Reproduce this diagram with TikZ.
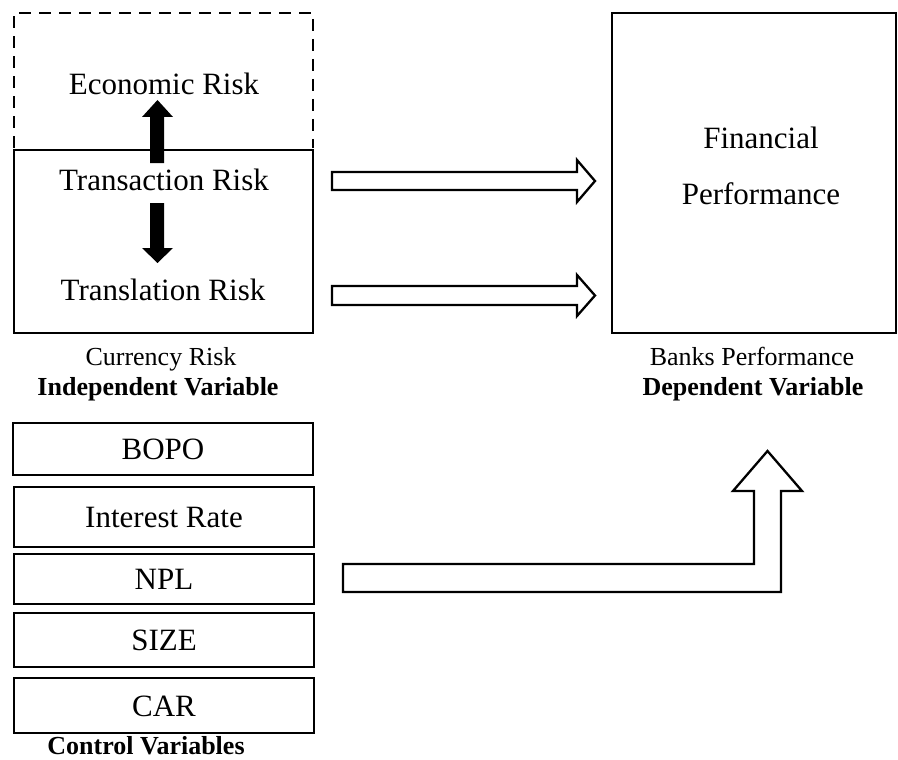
\documentclass[tikz,border=0pt]{standalone}
\usepackage{fontspec}
\setmainfont{Liberation Serif}
\newcommand{\bigtxt}{\fontsize{31}{37}\selectfont}
\newcommand{\smalltxt}{\fontsize{26}{31}\selectfont}
\begin{document}
\begin{tikzpicture}[x=1pt,y=-1pt,line join=miter,
	box/.style={draw,line width=2.6pt,inner sep=0pt},
	ctrlbox/.style={box,minimum width=300pt,text height=21pt,text depth=0pt,font=\bigtxt},
	txt/.style={anchor=base,inner sep=0pt,font=\bigtxt},
	note/.style={anchor=base,inner sep=0pt,font=\smalltxt},
	hollow/.style={draw,line width=2.3pt,fill=white},
	solid arrow/.style={fill=black}]
	\useasboundingbox (0,0) rectangle (898,760);
	% independent variable
	\draw[line width=2.6pt,dash pattern=on 12pt off 8pt] (14,148) -- (14,13) -- (313,13) -- (313,148);
	\node[box,minimum width=299pt,minimum height=183pt] (indep) at (163.5,241.5) {};
	\node[txt] (econ) at (164,95) {Economic Risk};
	\node[txt] (trans) at (164,190) {Transaction Risk};
	\node[txt] (transl) at (163,300) {Translation Risk};
	\fill[solid arrow] (150,163) -- (150,117) -- (142,117) -- (157.5,100) -- (173,117) -- (164,117) -- (164,163) -- cycle;
	\fill[solid arrow] (150,203) -- (150,248) -- (142,248) -- (157.5,263) -- (173,248) -- (164,248) -- (164,203) -- cycle;
	\node[note] (curr) at (161,365) {Currency Risk};
	\node[note] (indeplab) at (158,395) {\bfseries Independent Variable};
	% dependent variable
	\node[box,minimum width=284pt,minimum height=320pt] (dep) at (754,173) {};
	\node[txt] (fin) at (761,148) {Financial};
	\node[txt] (perf) at (761,204) {Performance};
	\node[note] (banks) at (752,365) {Banks Performance};
	\node[note] (deplab) at (753,395) {\bfseries Dependent Variable};
	% arrows between
	\draw[hollow] (332,172) -- (577,172) -- (577,160) -- (595,181) -- (577,202) -- (577,190) -- (332,190) -- cycle;
	\draw[hollow] (332,286) -- (577,286) -- (577,275) -- (595,295.5) -- (577,316) -- (577,305) -- (332,305) -- cycle;
	% control variables
	\node[ctrlbox,minimum height=52pt] (bopo) at (163,449) {BOPO};
	\node[ctrlbox,minimum height=60pt] (rate) at (164,517) {Interest Rate};
	\node[ctrlbox,minimum height=50pt] (npl) at (164,579) {NPL};
	\node[ctrlbox,minimum height=54pt] (size) at (164,640) {SIZE};
	\node[ctrlbox,minimum height=55pt] (car) at (164,705.5) {CAR};
	\node[note] (ctrl) at (146,754) {\bfseries Control Variables};
	\draw[hollow] (343,564) -- (754,564) -- (754,491) -- (733,491) -- (767.5,451) -- (802,491) -- (781,491) -- (781,592) -- (343,592) -- cycle;
\end{tikzpicture}
\end{document}
